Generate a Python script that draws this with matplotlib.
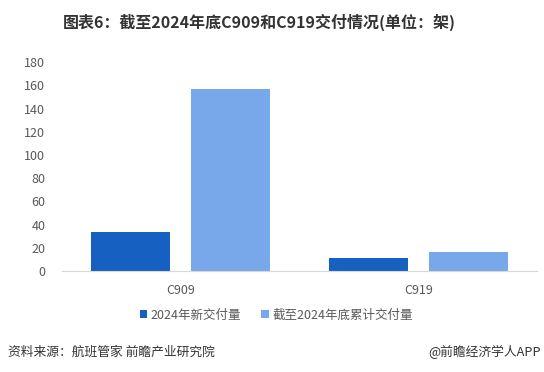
import matplotlib
matplotlib.use("Agg")
import matplotlib.pyplot as plt
import numpy as np

plt.rcParams["font.family"] = ["Noto Sans CJK SC", "DejaVu Sans"]

categories = ["C909", "C919"]
new_2024 = [34, 11]
cumulative_2024 = [157, 16]
series_names = ["2024年新交付量", "截至2024年底累计交付量"]
colors = ["#1560C0", "#78A8EA"]

fig = plt.figure(figsize=(5.44, 3.72), dpi=100)
ax = fig.add_axes([0.114, 0.2715, 0.873, 0.5615])

x = np.arange(len(categories))
w = 0.333
off = w / 2 + 0.044
ax.bar(x - off, new_2024, width=w, color=colors[0], label=series_names[0])
ax.bar(x + off, cumulative_2024, width=w, color=colors[1], label=series_names[1])

ax.set_xlim(-0.5, 1.5)
ax.set_ylim(0, 180)
ax.set_yticks(range(0, 181, 20))
ax.set_xticks(x)
ax.set_xticklabels(categories)
ax.tick_params(axis="both", length=0, labelsize=9, colors="#595959")
ax.tick_params(axis="y", pad=12)
ax.tick_params(axis="x", pad=9)
for s in ["top", "right", "left"]:
    ax.spines[s].set_visible(False)
ax.spines["bottom"].set_color("#D9D9D9")

fig.text(0.477, 0.94, "图表6：截至2024年底C909和C919交付情况(单位：架)",
         ha="center", va="center", fontsize=11.5, fontweight="bold", color="#333333")

fig.legend(loc="center", bbox_to_anchor=(0.508, 0.153), ncol=2, frameon=False,
           fontsize=9, handlelength=0.6, handleheight=0.6, handletextpad=0.3,
           columnspacing=1.6, labelcolor="#595959")

fig.text(0.015, 0.053, "资料来源：航班管家 前瞻产业研究院", ha="left", va="center",
         fontsize=9.2, color="#333333")
fig.text(0.995, 0.053, "@前瞻经济学人APP", ha="right", va="center",
         fontsize=9.2, color="#333333")

fig.savefig("out.png", dpi=100)
